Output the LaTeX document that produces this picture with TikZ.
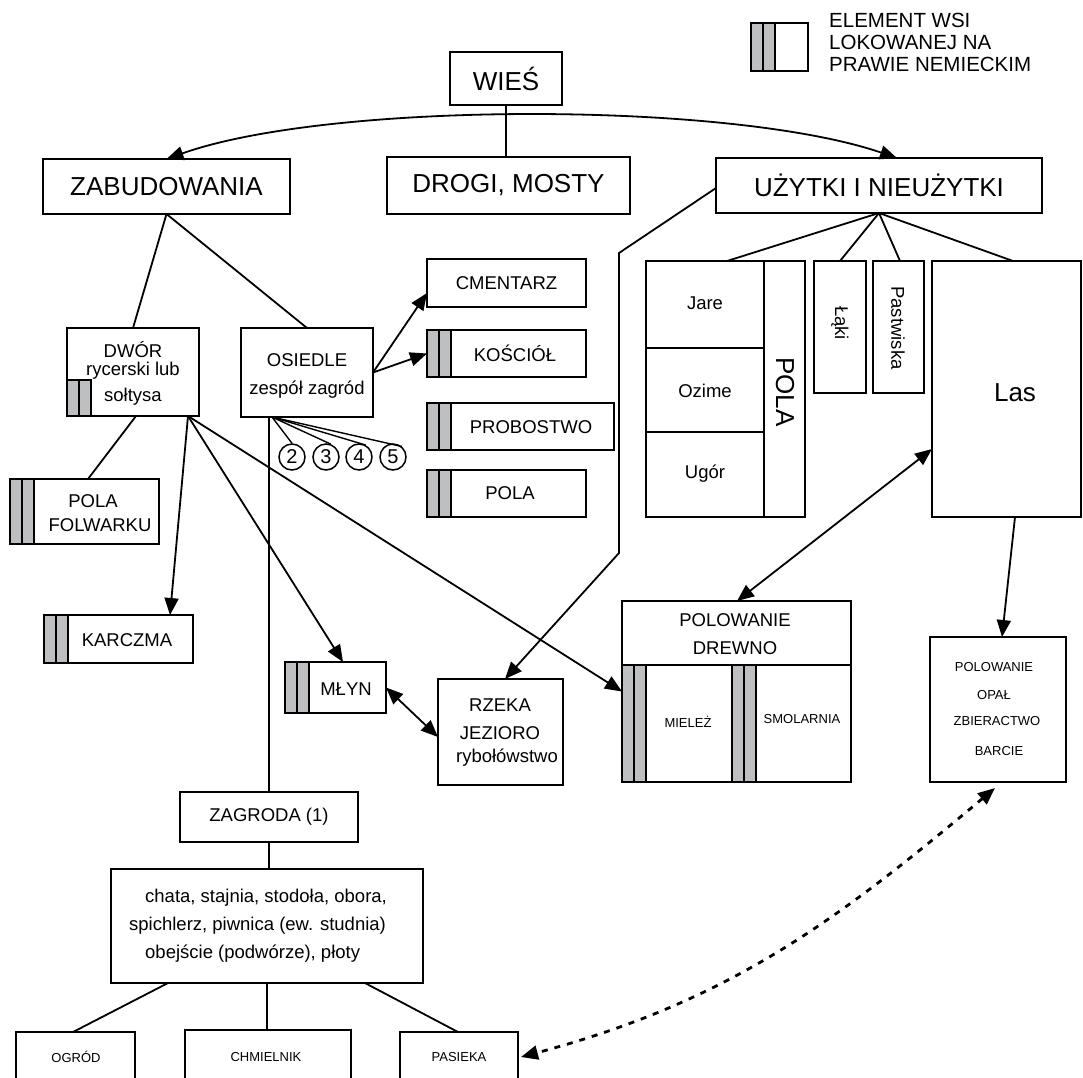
\documentclass[tikz,border=0pt]{standalone}
\usepackage{fontspec}
\setmainfont{Liberation Sans}
\usetikzlibrary{arrows.meta}
\definecolor{bandgray}{RGB}{190,191,193}
% two grey stripes marking an element of a village chartered under German law
\newcommand\bandpair[3]{%
  \draw[band] (#1,#2) rectangle (#1+12,#3);
  \draw[band] (#1+12,#2) rectangle (#1+24,#3);}
\tikzset{
  box/.style={draw, line width=2.2pt, fill=white, inner sep=0pt, outer sep=0pt, anchor=north west},
  big/.style={inner sep=0pt, font=\fontsize{26}{31}\selectfont},
  med/.style={inner sep=0pt, font=\fontsize{18.5}{22}\selectfont},
  small/.style={inner sep=0pt, font=\fontsize{13}{16}\selectfont},
  band/.style={draw, line width=2pt, fill=bandgray},
  link/.style={line width=1.8pt},
  thin/.style={line width=1.4pt},
  tip/.style={-{Triangle[length=17pt,width=14pt]}},
  both/.style={{Triangle[length=17pt,width=14pt]}-{Triangle[length=17pt,width=14pt]}},
  num/.style={circle, draw, line width=1.5pt, minimum size=26pt, inner sep=0pt, font=\fontsize{20}{24}\selectfont},
}
\begin{document}
\begin{tikzpicture}[x=1pt,y=-1pt]
\useasboundingbox (0,0) rectangle (1083,1077);
\clip (0,0) rectangle (1083,1077);

% ---- boxes ----
\node[box, big, minimum width=112, minimum height=53] (wies) at (450,52) {WIEŚ};
\node[box, big, minimum width=247, minimum height=55] (zab) at (43,159) {ZABUDOWANIA};
\node[box, big, minimum width=243, minimum height=57] (drogi) at (387,157) {DROGI, MOSTY};
\node[box, big, minimum width=326, minimum height=55] (uz) at (716,158) {UŻYTKI I NIEUŻYTKI};

% legend
\node[box, minimum width=57, minimum height=48] (leg) at (751,23) {};
\bandpair{751}{23}{71}
\node[anchor=west, align=left, inner sep=0pt, font=\fontsize{20.5}{22}\selectfont] (legt) at (829,42)
  {ELEMENT WSI\\LOKOWANEJ NA\\PRAWIE NEMIECKIM};

% land use
\node[box, minimum width=159, minimum height=256] (pola) at (646,261) {};
\draw[link] (764,261) -- (764,517);
\draw[link] (646,348) -- (764,348);
\draw[link] (646,432) -- (764,432);
\node[med] (jare) at (705,303) {Jare};
\node[med] (ozime) at (705,391) {Ozime};
\node[med] (ugor) at (705,474) {Ugór};
\node[big, rotate=-90] (polat) at (785,392) {POLA};
\node[box, minimum width=52, minimum height=132] (laki) at (814,261) {};
\node[med, rotate=-90] (lakit) at (840,323) {Łąki};
\node[box, minimum width=51, minimum height=132] (past) at (873,261) {};
\node[med, rotate=-90] (pastt) at (898,328) {Pastwiska};
\node[box, minimum width=149, minimum height=256] (las) at (932,261) {};
\node[big] (last) at (1015,393) {Las};

% church and parish
\node[box, med, minimum width=159, minimum height=48] (cment) at (427,259) {CMENTARZ};
\node[box, minimum width=159, minimum height=47] (kosc) at (427,330) {};
\bandpair{427}{330}{377}
\node[med] (kosct) at (515,353) {KOŚCIÓŁ};
\node[box, minimum width=187, minimum height=47] (prob) at (427,403) {};
\bandpair{427}{403}{450}
\node[med] (probt) at (531,427) {PROBOSTWO};
\node[box, minimum width=159, minimum height=47] (pola2) at (427,470) {};
\bandpair{427}{470}{517}
\node[med] (pola2t) at (510,493) {POLA};

% manor and settlement
\node[box, minimum width=132, minimum height=88] (dwor) at (67,328) {};
\bandpair{67}{380}{416}
\node[med] (dwort1) at (133,350) {DWÓR};
\node[med] (dwort2) at (133,371) {rycerski lub};
\node[med] (dwort3) at (133,397) {sołtysa};
\node[box, minimum width=132, minimum height=89] (osie) at (241,328) {};
\node[med] (osiet1) at (307,360) {OSIEDLE};
\node[med] (osiet2) at (307,390) {zespół zagród};
\node[num] (c2) at (292,457) {2};
\node[num] (c3) at (326,457) {3};
\node[num] (c4) at (359,457) {4};
\node[num] (c5) at (393,457) {5};

\node[box, minimum width=149, minimum height=65] (polf) at (10,479) {};
\bandpair{10}{479}{544}
\node[med] (polft1) at (93,501) {POLA};
\node[med] (polft2) at (100,525) {FOLWARKU};
\node[box, minimum width=149, minimum height=48] (karcz) at (44,615) {};
\bandpair{44}{615}{663}
\node[med] (karczt) at (127,640) {KARCZMA};
\node[box, minimum width=101, minimum height=51] (mlyn) at (285,662) {};
\bandpair{285}{662}{713}
\node[med] (mlynt) at (346,689) {MŁYN};

% waters
\node[box, minimum width=125, minimum height=106] (rzeka) at (438,679) {};
\node[med] (rzekat1) at (500,705) {RZEKA};
\node[med] (rzekat2) at (500,733) {JEZIORO};
\node[med] (rzekat3) at (507,758) {rybołówstwo};

% forest use
\node[box, minimum width=229, minimum height=181] (polow) at (622,601) {};
\draw[link] (622,665) -- (851,665);
\bandpair{622}{665}{782}
\bandpair{732}{665}{782}
\node[med] (polowt1) at (735,620) {POLOWANIE};
\node[med] (polowt2) at (735,648) {DREWNO};
\node[small] (mielt) at (688,722) {MIELEŻ};
\node[small] (smolt) at (802,719) {SMOLARNIA};
\node[box, minimum width=136, minimum height=145] (opal) at (930,637) {};
\node[small] (opalt1) at (994,667) {POLOWANIE};
\node[small] (opalt2) at (994,695) {OPAŁ};
\node[small] (opalt3) at (997,721) {ZBIERACTWO};
\node[small] (opalt4) at (999,751) {BARCIE};

% farmstead
\node[box, med, minimum width=178, minimum height=50] (zagr) at (180,792) {ZAGRODA (1)};
\node[box, minimum width=312, minimum height=114] (chata) at (111,869) {};
\node[med, anchor=west] (chatat1) at (145,898) {chata, stajnia, stodoła, obora,};
\node[med, anchor=west] (chatat2) at (129,926) {spichlerz, piwnica (ew. studnia)};
\node[med, anchor=west] (chatat3) at (145,954) {obejście (podwórze), płoty};
\node[box, minimum width=119, minimum height=70] (ogrod) at (16,1032) {};
\node[small] (ogrodt) at (76,1057) {OGRÓD};
\node[box, minimum width=166, minimum height=72] (chmiel) at (185,1030) {};
\node[small] (chmielt) at (266,1057) {CHMIELNIK};
\node[box, minimum width=118, minimum height=70] (pasieka) at (400,1032) {};
\node[small] (pasiekat) at (459,1057) {PASIEKA};

% ---- connectors ----
\draw[link] (wies.south) -- (wies.south |- drogi.north);
\draw[link, both] (zab.north) .. controls (330,101) and (730,101) .. ([xshift=18pt]uz.north);

\draw[link] (zab.south) -- (dwor.north);
\draw[link] (zab.south) -- (osie.north);

\coordinate (dworbr) at ([xshift=-11pt]dwor.south east);
\draw[link] ([xshift=3pt]dwor.south) -- ([xshift=3.5pt]polf.north);
\draw[link, tip] (dworbr) -- ([xshift=51.5pt]karcz.north);
\draw[link, tip] (dworbr) -- ([xshift=7.5pt]mlyn.north);
\draw[link, tip] (dworbr) -- (polow.west);

\draw[link, tip] (osie.east) -- ([yshift=-10pt]cment.west);
\draw[link, tip] (osie.east) -- (kosc.west);

\coordinate (fan) at ([xshift=-35pt]osie.south);
\draw[thin] (fan) -- (c2.north);
\draw[thin] (fan) -- (c3.70);
\draw[thin] (fan) -- (c4.60);
\draw[thin] (fan) -- (c5.50);
\draw[link] (zagr.north) -- (zagr.north |- osie.south);

\draw[link] (zagr.south) -- (zagr.south |- chata.north);
\draw[link] ([xshift=57pt]chata.south west) -- ([xshift=57pt]ogrod.north west);
\draw[link] (chata.south) -- (chata.south |- chmiel.north);
\draw[link] ([xshift=-58pt]chata.south east) -- ([xshift=58pt]pasieka.north west);

\draw[link, both] (mlyn.east) -- ([yshift=-5pt]rzeka.west);

\coordinate (bendA) at (619,253);
\coordinate (bendB) at (619,553);
\draw[link, tip] ([yshift=-2.5pt]uz.west) -- (bendA) -- (bendB) -- ([xshift=4.5pt]rzeka.north);

\draw[link] (uz.south) -- ([xshift=1.5pt]pola.north);
\draw[link] (uz.south) -- (laki.north);
\draw[link] (uz.south) -- ([xshift=1.5pt]past.north);
\draw[link] (uz.south) -- ([xshift=6.5pt]las.north);

\draw[link, both] ([yshift=-60pt]las.west) -- ([xshift=0.5pt]polow.north);
\draw[link, tip] ([xshift=8.5pt]las.south) -- ([xshift=4pt]opal.north);

\draw[line width=2.8pt, dash pattern=on 6pt off 7pt, both]
  ([shift={(-3pt,-6pt)}]opal.south) to[out=-140, in=15] ([shift={(3pt,-25pt)}]pasieka.north east);
\end{tikzpicture}
\end{document}
